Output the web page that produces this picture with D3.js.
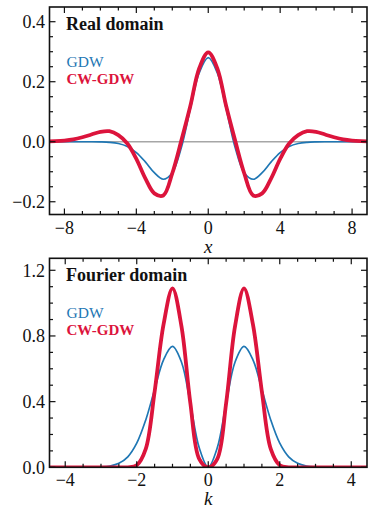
<!DOCTYPE html>
<html>
<head>
<meta charset="utf-8">
<script src="https://cdn.jsdelivr.net/npm/d3@7"></script>
<style>
  html, body { margin: 0; padding: 0; background: #fff; }
  svg { display: block; }
  text { font-family: "Liberation Serif", "DejaVu Serif", serif; fill: #111; }
</style>
</head>
<body>
<svg id="chart" width="374" height="515"></svg>
<script>
// real domain samples (x step 0.5)
const xReal = [-9, -8.5, -8, -7.5, -7, -6.5, -6, -5.5, -5, -4.5, -4, -3.5, -3, -2.5, -2, -1.5, -1, -0.5, 0,
  0.5, 1, 1.5, 2, 2.5, 3, 3.5, 4, 4.5, 5, 5.5, 6, 6.5, 7, 7.5, 8, 8.5, 9];
const gdwReal = [0, 0, 0, 0, 0, -0.0001, -0.0006, -0.002, -0.006, -0.016, -0.036, -0.067, -0.103, -0.125, -0.103, -0.020, 0.109, 0.230, 0.280,
  0.230, 0.109, -0.020, -0.103, -0.125, -0.103, -0.067, -0.036, -0.016, -0.006, -0.002, -0.0006, -0.0001, 0, 0, 0, 0, 0];
const cwReal = [0.001, 0.002, 0.004, 0.008, 0.015, 0.024, 0.033, 0.035, 0.022, -0.006, -0.057, -0.122, -0.172, -0.179, -0.105, 0.003, 0.118, 0.245, 0.298,
  0.245, 0.118, 0.003, -0.105, -0.179, -0.172, -0.122, -0.057, -0.006, 0.022, 0.035, 0.033, 0.024, 0.015, 0.008, 0.004, 0.002, 0.001];

// fourier domain samples (k step 0.25)
const kFourier = [-4.5, -4.25, -4, -3.75, -3.5, -3.25, -3, -2.75, -2.5, -2.25, -2, -1.75, -1.5, -1.25, -1, -0.75, -0.5, -0.25, 0,
  0.25, 0.5, 0.75, 1, 1.25, 1.5, 1.75, 2, 2.25, 2.5, 2.75, 3, 3.25, 3.5, 3.75, 4, 4.25, 4.5];
const gdwFourier = [0, 0, 0, 0, 0.0001, 0.0005, 0.002, 0.008, 0.024, 0.064, 0.147, 0.287, 0.474, 0.655, 0.736, 0.641, 0.389, 0.117, 0,
  0.117, 0.389, 0.641, 0.736, 0.655, 0.474, 0.287, 0.147, 0.064, 0.024, 0.008, 0.002, 0.0005, 0.0001, 0, 0, 0, 0];
const cwFourier = [0, 0, 0, 0, 0, 0, 0, 0, 0, 0, 0.012, 0.11, 0.46, 0.87, 1.09, 0.86, 0.39, 0.05, 0,
  0.05, 0.39, 0.86, 1.09, 0.87, 0.46, 0.11, 0.012, 0, 0, 0, 0, 0, 0, 0, 0, 0, 0];

const seriesNames = ["GDW", "CW-GDW"];
const panelTitles = ["Real domain", "Fourier domain"];
const axisLabels = ["x", "k"];
const realXTicks = [-8, -4, 0, 4, 8];
const realYTicks = [-0.2, 0.0, 0.2, 0.4];
const fourierXTicks = [-4, -2, 0, 2, 4];
const fourierYTicks = [0.0, 0.4, 0.8, 1.2];

const BLUE = "#1f77b4";
const RED = "#dc143c";

const svg = d3.select("#chart");

function drawPanel(p) {
  const g = svg.append("g");
  const x = d3.scaleLinear().domain(p.xDomain).range([p.left, p.right]);
  const y = d3.scaleLinear().domain(p.yDomain).range([p.bottom, p.top]);

  const clipId = "clip-" + p.id;
  svg.append("clipPath").attr("id", clipId)
    .append("rect").attr("x", p.left).attr("y", p.top)
    .attr("width", p.right - p.left).attr("height", p.bottom - p.top);

  const plot = g.append("g").attr("clip-path", `url(#${clipId})`);

  if (p.zeroLine) {
    plot.append("line")
      .attr("x1", p.left).attr("x2", p.right)
      .attr("y1", y(0)).attr("y2", y(0))
      .attr("stroke", "#a6a6a6").attr("stroke-width", 1.6);
  }

  const line = (ys) => d3.line()
    .x((d, i) => x(p.xs[i]))
    .y((d) => y(d))
    .curve(d3.curveCatmullRom.alpha(0.5))(ys);

  plot.append("path").attr("d", line(p.blue))
    .attr("fill", "none").attr("stroke", BLUE).attr("stroke-width", 1.7);
  plot.append("path").attr("d", line(p.red))
    .attr("fill", "none").attr("stroke", RED).attr("stroke-width", 3.8)
    .attr("stroke-linejoin", "round");

  // ticks, inward on all four sides
  const ticks = g.append("g").attr("stroke", "#111").attr("stroke-width", 1.2);
  const xMinor = d3.range(Math.ceil(p.xDomain[0] / p.xMinor), Math.floor(p.xDomain[1] / p.xMinor) + 1).map((i) => i * p.xMinor);
  xMinor.forEach((v) => {
    const major = p.xTicks.some((t) => Math.abs(t - v) < 1e-9);
    const len = major ? 6 : 3.5;
    ticks.append("line").attr("x1", x(v)).attr("x2", x(v)).attr("y1", p.bottom).attr("y2", p.bottom - len);
    ticks.append("line").attr("x1", x(v)).attr("x2", x(v)).attr("y1", p.top).attr("y2", p.top + len);
  });
  const yMinor = d3.range(Math.ceil(p.yDomain[0] / p.yMinor - 1e-9), Math.floor(p.yDomain[1] / p.yMinor + 1e-9) + 1).map((i) => i * p.yMinor);
  yMinor.forEach((v) => {
    const major = p.yTicks.some((t) => Math.abs(t - v) < 1e-9);
    const len = major ? 6 : 3.5;
    ticks.append("line").attr("y1", y(v)).attr("y2", y(v)).attr("x1", p.left).attr("x2", p.left + len);
    ticks.append("line").attr("y1", y(v)).attr("y2", y(v)).attr("x1", p.right).attr("x2", p.right - len);
  });

  g.append("rect")
    .attr("x", p.left).attr("y", p.top)
    .attr("width", p.right - p.left).attr("height", p.bottom - p.top)
    .attr("fill", "none").attr("stroke", "#111").attr("stroke-width", 1.6);

  const fmtY = d3.format(".1f");
  p.yTicks.forEach((t) => {
    g.append("text").attr("x", p.left - 4.5).attr("y", y(t)).attr("dy", "0.35em")
      .attr("text-anchor", "end").attr("font-size", 18)
      .text(fmtY(t));
  });
  p.xTicks.forEach((t) => {
    g.append("text").attr("x", x(t)).attr("y", p.bottom + 19)
      .attr("text-anchor", "middle").attr("font-size", 18)
      .text(d3.format("d")(t));
  });

  g.append("text").attr("x", x(0)).attr("y", p.bottom + 38)
    .attr("text-anchor", "middle").attr("font-size", 19).attr("font-style", "italic")
    .text(p.axisLabel);

  g.append("text").attr("x", 66).attr("y", p.top + 23)
    .attr("font-size", 18).attr("font-weight", "bold")
    .text(p.title);
  g.append("text").attr("x", 66.5).attr("y", p.top + 59.5)
    .attr("font-size", 15.5).style("fill", BLUE)
    .text(seriesNames[0]);
  g.append("text").attr("x", 66.5).attr("y", p.top + 77)
    .attr("font-size", 15).attr("font-weight", "bold").style("fill", RED)
    .text(seriesNames[1]);
}

drawPanel({
  id: "real", left: 49.5, right: 367, top: 7, bottom: 214.5,
  xDomain: [-8.83, 8.83], yDomain: [-0.2425, 0.449],
  xTicks: realXTicks, yTicks: realYTicks, xMinor: 1, yMinor: 0.05,
  xs: xReal, blue: gdwReal, red: cwReal, zeroLine: true,
  title: panelTitles[0], axisLabel: axisLabels[0],
});

drawPanel({
  id: "fourier", left: 49.5, right: 367, top: 258.3, bottom: 467.3,
  xDomain: [-4.44, 4.44], yDomain: [0, 1.273],
  xTicks: fourierXTicks, yTicks: fourierYTicks, xMinor: 0.5, yMinor: 0.1,
  xs: kFourier, blue: gdwFourier, red: cwFourier, zeroLine: false,
  title: panelTitles[1], axisLabel: axisLabels[1],
});
</script>
</body>
</html>
